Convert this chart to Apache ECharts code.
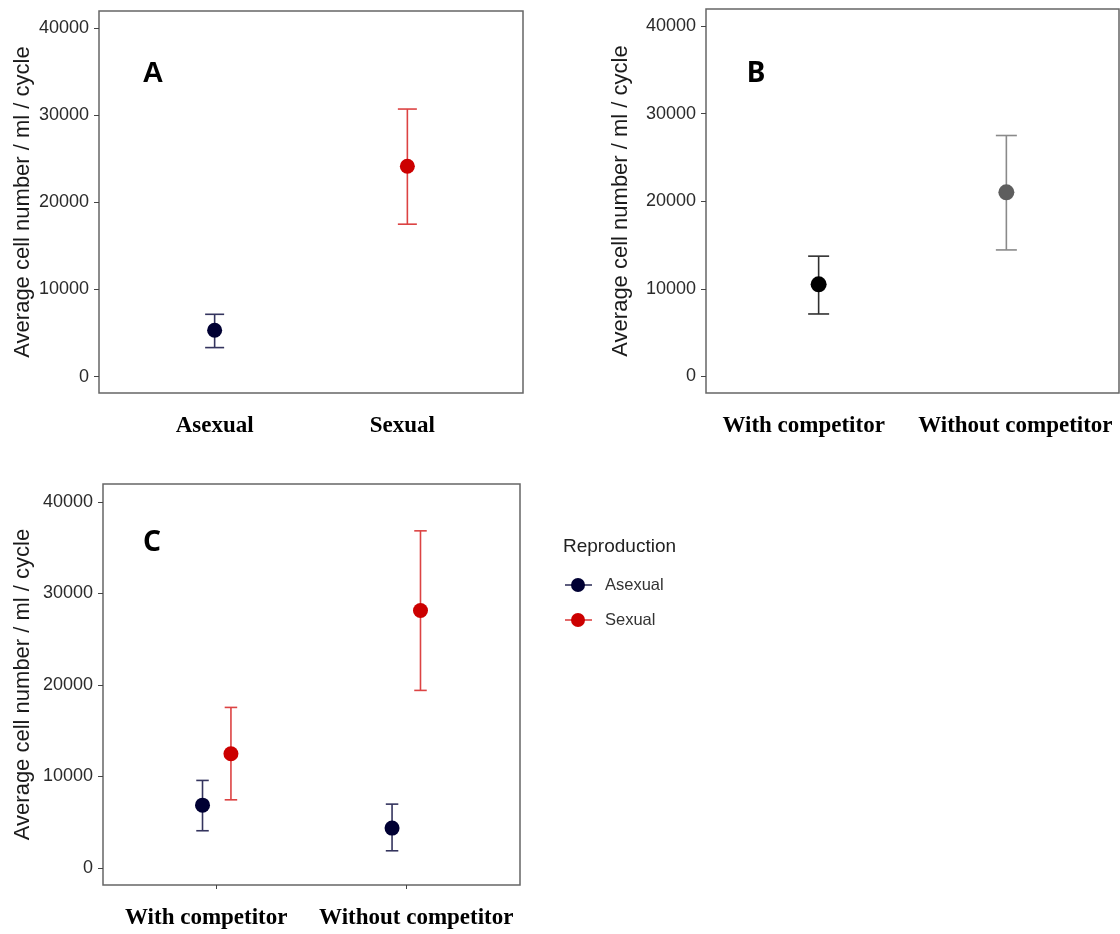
<!DOCTYPE html>
<html>
<head>
<meta charset="utf-8">
<script src="https://cdn.jsdelivr.net/npm/echarts@6/dist/echarts.min.js"></script>
<style>html,body{margin:0;padding:0;background:#fff}#chart{width:1120px;height:934px}</style>
</head>
<body>
<div id="chart"></div>
<script>
// ---------- data ----------
const yTicks = [0, 10000, 20000, 30000, 40000];

// Panel A: reproduction mode
const aCategories = ['Asexual', 'Sexual'];
const aMean = [5320, 24140];
const aLow  = [3330, 17490];
const aHigh = [7150, 30700];

// Panel B: competitor
const bCategories = ['With competitor', 'Without competitor'];
const bMean = [10520, 21020];
const bLow  = [7140, 14450];
const bHigh = [13740, 27510];

// Panel C: competitor x reproduction
const cCategories = ['With competitor', 'Without competitor'];
const cGroups = ['Asexual', 'Sexual'];
const cAsexualMean = [6850, 4340];
const cAsexualLow  = [4050, 1860];
const cAsexualHigh = [9550, 6960];
const cSexualMean  = [12460, 28130];
const cSexualLow   = [7430, 19390];
const cSexualHigh  = [17530, 36830];

const yName = 'Average cell number / ml / cycle';
const panelLetters = ['A', 'B', 'C'];

// ---------- styles ----------
const NAVY = '#000033', NAVY_BAR = '#34345e';
const RED = '#cc0000', RED_BAR = '#dc4343';
const BLACK = '#000000', BLACK_BAR = '#303030';
const GREY = '#5e5e5e', GREY_BAR = '#8a8a8a';
const Y_MIN = -1880, Y_MAX = 41950;

const chart = echarts.init(document.getElementById('chart'), null, {renderer: 'canvas'});

function errRender(capPx, color, lw) {
  return function (params, api) {
    const x = api.value(0), lo = api.value(1), hi = api.value(2);
    const a = api.coord([x, lo]), b = api.coord([x, hi]);
    const h = capPx / 2;
    const st = {stroke: color, lineWidth: lw};
    return {type: 'group', children: [
      {type: 'line', shape: {x1: a[0], y1: a[1], x2: b[0], y2: b[1]}, style: st},
      {type: 'line', shape: {x1: a[0] - h, y1: a[1], x2: a[0] + h, y2: a[1]}, style: st},
      {type: 'line', shape: {x1: b[0] - h, y1: b[1], x2: b[0] + h, y2: b[1]}, style: st}
    ]};
  };
}

function makeX(idx, cats, pads, showTick) {
  return {
    type: 'value', gridIndex: idx, min: 0.4, max: 2.6, position: 'bottom',
    splitLine: {show: false},
    axisLine: {show: false, onZero: false},
    axisTick: {show: showTick, customValues: [1, 2], length: 4, lineStyle: {color: '#444', width: 1}},
    axisLabel: {
      customValues: [1, 2], margin: 22,
      formatter: function (v) { const i = Math.round(v) - 1; return '{t' + i + '|' + cats[i] + '}'; },
      rich: {
        t0: {fontFamily: 'Liberation Serif', fontWeight: 'bold', fontSize: 23, color: '#000', padding: pads[0]},
        t1: {fontFamily: 'Liberation Serif', fontWeight: 'bold', fontSize: 23, color: '#000', padding: pads[1]}
      }
    }
  };
}

function makeY(idx, gap) {
  return {
    type: 'value', gridIndex: idx, min: Y_MIN, max: Y_MAX,
    splitLine: {show: false},
    axisLine: {show: false, onZero: false},
    axisTick: {show: true, customValues: yTicks, length: 5, lineStyle: {color: '#444', width: 1}},
    axisLabel: {customValues: yTicks, margin: 10, fontFamily: 'Liberation Sans', fontSize: 18, color: '#2a2a2a',
      formatter: function (v) { return String(Math.round(v)); }},
    name: yName, nameLocation: 'middle', nameRotate: 90, nameGap: gap, nameMoveOverlap: false,
    nameTextStyle: {fontFamily: 'Liberation Sans', fontSize: 22, color: '#1a1a1a'}
  };
}

const gridBase = {show: true, borderColor: '#666', borderWidth: 1.5, backgroundColor: '#fff', containLabel: false, outerBoundsMode: 'none'};

function pts(xs, ys) { return xs.map((x, i) => [x, ys[i]]); }
function bars(xs, lo, hi) { return xs.map((x, i) => [x, lo[i], hi[i]]); }

const series = [];
function addGroup(idx, xs, mean, lo, hi, col, barCol, cap, size) {
  series.push({type: 'custom', xAxisIndex: idx, yAxisIndex: idx, renderItem: errRender(cap, barCol, 1.6),
    data: bars(xs, lo, hi), z: 2, silent: true, encode: {x: 0, y: [1, 2]}});
  series.push({type: 'scatter', xAxisIndex: idx, yAxisIndex: idx, symbol: 'circle', symbolSize: size,
    itemStyle: {color: col, opacity: 1}, data: pts(xs, mean), z: 3, silent: true});
}

// Panel A
addGroup(0, [1], [aMean[0]], [aLow[0]], [aHigh[0]], NAVY, NAVY_BAR, 19, 15);
addGroup(0, [2], [aMean[1]], [aLow[1]], [aHigh[1]], RED, RED_BAR, 19, 15);
// Panel B
addGroup(1, [1], [bMean[0]], [bLow[0]], [bHigh[0]], BLACK, BLACK_BAR, 21, 16);
addGroup(1, [2], [bMean[1]], [bLow[1]], [bHigh[1]], GREY, GREY_BAR, 21, 16);
// Panel C (dodged)
const dodge = 0.075;
addGroup(2, [1 - dodge, 2 - dodge], cAsexualMean, cAsexualLow, cAsexualHigh, NAVY, NAVY_BAR, 12.5, 15);
addGroup(2, [1 + dodge, 2 + dodge], cSexualMean, cSexualLow, cSexualHigh, RED, RED_BAR, 12.5, 15);

// letters + legend (graphic)
const letterPos = [[153, 74, '"Liberation Sans", Arial, sans-serif', 29], [756, 74, '"Noto Sans", sans-serif', 28], [152, 543, '"Noto Sans", sans-serif', 28]];
const graphic = [];
panelLetters.forEach((L, i) => {
  const p = letterPos[i];
  graphic.push({type: 'text', x: p[0], y: p[1], style: {text: L, font: 'bold ' + p[3] + 'px ' + p[2],
    fill: '#000', align: 'center', verticalAlign: 'middle'}});
});
graphic.push({type: 'text', x: 563, y: 547, style: {text: 'Reproduction', fontFamily: 'Liberation Sans', fontSize: 19,
  fill: '#222', verticalAlign: 'middle'}});
const legendItems = [
  {name: cGroups[0], col: NAVY, barCol: NAVY_BAR, y: 585},
  {name: cGroups[1], col: RED, barCol: RED_BAR, y: 620}
];
legendItems.forEach(it => {
  graphic.push({type: 'line', shape: {x1: 565, y1: it.y, x2: 592, y2: it.y}, style: {stroke: it.barCol, lineWidth: 1.6}});
  graphic.push({type: 'circle', shape: {cx: 578, cy: it.y, r: 7}, style: {fill: it.col}});
  graphic.push({type: 'text', x: 605, y: it.y, style: {text: it.name, fontFamily: 'Liberation Sans', fontSize: 16.5,
    fill: '#333', verticalAlign: 'middle'}});
});

chart.setOption({
  animation: false,
  backgroundColor: '#fff',
  grid: [
    Object.assign({}, gridBase, {left: 99, top: 11, width: 424, height: 382}),
    Object.assign({}, gridBase, {left: 706, top: 9, width: 413, height: 384}),
    Object.assign({}, gridBase, {left: 103, top: 484, width: 417, height: 401})
  ],
  xAxis: [
    makeX(0, aCategories, [[0, 0, 0, 0], [0, 10, 0, 0]], false),
    makeX(1, bCategories, [[0, 30, 0, 0], [0, 0, 0, 18]], false),
    makeX(2, cCategories, [[0, 21, 0, 0], [0, 0, 0, 20]], true)
  ],
  yAxis: [makeY(0, 65), makeY(1, 74), makeY(2, 69)],
  graphic: graphic,
  series: series
});
</script>
</body>
</html>
